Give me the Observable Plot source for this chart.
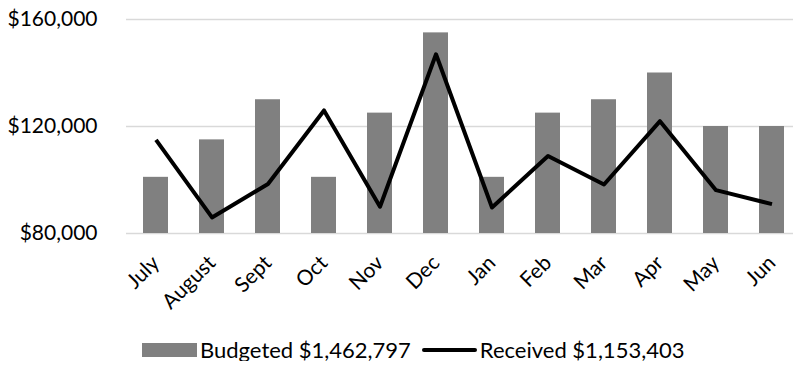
<!DOCTYPE html>
<html><head><meta charset="utf-8">
<script src="https://cdn.jsdelivr.net/npm/d3@7"></script>
<script src="https://cdn.jsdelivr.net/npm/@observablehq/plot@0.6"></script>
<style>
body{margin:0;background:#fff;font-family:Lato,"Noto Sans",sans-serif;}
svg{display:block}
#legend{display:flex;align-items:center;margin-left:142px;margin-top:9px;font-size:22px;line-height:22px;color:#000;height:22px;white-space:nowrap}
.sw{display:inline-block;flex:none}
</style>
</head><body><div id="chart"></div><div id="legend"></div><script>
const months = ["July","August","Sept","Oct","Nov","Dec","Jan","Feb","Mar","Apr","May","Jun"];
const budgeted = [101000,115000,130000,101000,125000,155000,101000,125000,130000,140000,120000,120000];
const received = [115000,86000,98500,126000,90000,147000,89700,109000,98300,122000,96200,91000];
const yTicks = [80000,120000,160000];
const seriesNames = ["Budgeted $1,462,797","Received $1,153,403"];
const data = months.map((m,i)=>({month:m,budgeted:budgeted[i],received:received[i]}));
const fmt = d => "$" + d3.format(",")(d);
const plot = Plot.plot({
  width:793, height:330, marginLeft:126, marginRight:0, marginTop:19, marginBottom:97,
  style:{fontFamily:"Lato, 'Noto Sans', sans-serif", fontSize:"20px", color:"#000", background:"#fff", overflow:"visible"},
  x:{domain:months, range:[126,801], paddingInner:0.55, paddingOuter:0.275, axis:null},
  y:{domain:[80000,160000], axis:null},
  marks:[
    Plot.ruleY(yTicks,{stroke:"#d9d9d9", strokeWidth:1.5}),
    Plot.barY(data,{x:"month", y1:80000, y2:"budgeted", fill:"#808080"}),
    Plot.lineY(data,{x:"month", y:"received", stroke:"#000", strokeWidth:4, strokeLinejoin:"round", strokeLinecap:"butt"}),
    Plot.axisY(yTicks,{tickFormat:fmt, tickSize:0, tickPadding:29, fontSize:21, anchor:"left", label:null}),
    Plot.axisX(months,{tickRotate:-45, tickSize:0, tickPadding:26, fontSize:21, anchor:"bottom", label:null})
  ]
});
document.getElementById("chart").appendChild(plot);
const lg = document.getElementById("legend");
lg.innerHTML = `<span class="sw" style="width:55px;height:14px;background:#808080;margin-right:3px"></span><span>${seriesNames[0]}</span>`+
 `<span class="sw" style="width:55px;height:4px;background:#000;border-radius:2px;margin-left:11px;margin-right:3px"></span><span>${seriesNames[1]}</span>`;
</script></body></html>
